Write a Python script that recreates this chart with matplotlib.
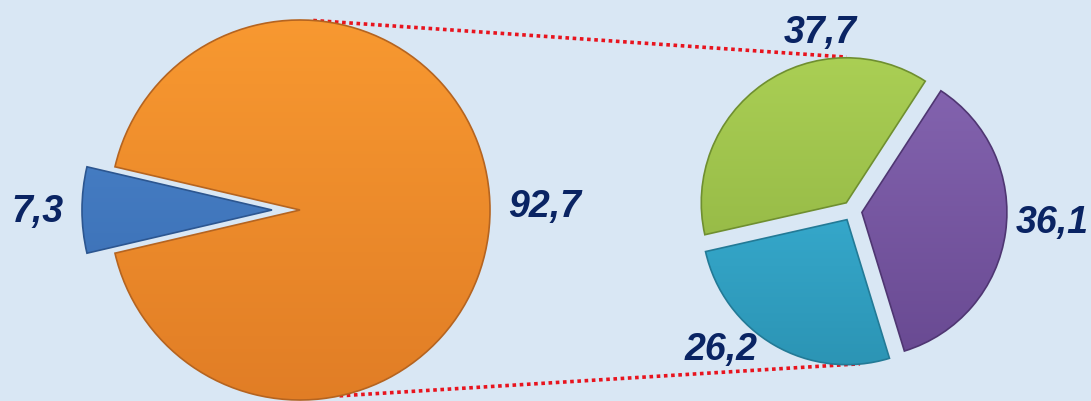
import numpy as np
import matplotlib
matplotlib.use("Agg")
import matplotlib.pyplot as plt
from matplotlib.colors import LinearSegmentedColormap

# datos
main_values = [7.3, 92.7]
main_labels = ["7,3", "92,7"]
sub_values = [37.7, 26.2, 36.1]
sub_labels = ["37,7", "26,2", "36,1"]

# colores (arriba claro, abajo oscuro)
main_colors = [("#4f8ad2", "#3466aa"), ("#f99a31", "#e07c25")]
sub_colors = [("#abd055", "#8aad3e"), ("#40bde3", "#2b93b3"), ("#8767b3", "#674890")]
edge_main = ["#2c5690", "#b56420"]
edge_sub = ["#6f8f30", "#237a96", "#4f3672"]
text_color = "#0a2463"
bg = "#d9e7f4"

W, H = 1091, 401
fig = plt.figure(figsize=(W / 100, H / 100), dpi=100)
fig.patch.set_facecolor(bg)
ax = fig.add_axes([0, 0, 1, 1])
ax.set_facecolor(bg)

# geometria (pixeles, y hacia arriba)
c1, r1 = (300, 191), 190
c2, r2 = (852, 190), 145


def shade(wedges, colors, edges, center, r):
    for w, (top, bot), ec in zip(wedges, colors, edges):
        cmap = LinearSegmentedColormap.from_list("g", [bot, top])
        grad = np.linspace(0, 1, 256).reshape(-1, 1)
        im = ax.imshow(grad, extent=(center[0] - r - 40, center[0] + r + 40,
                                     center[1] - r - 20, center[1] + r + 20),
                       origin="lower", cmap=cmap, aspect="auto", zorder=2)
        im.set_clip_path(w)
        w.set_facecolor("none")
        w.set_edgecolor(ec)
        w.set_linewidth(1.2)
        w.set_zorder(3)


start1 = 180 - main_values[0] * 3.6 / 2
w1, _ = ax.pie(main_values, center=c1, radius=r1, startangle=start1,
               explode=[28, 0], counterclock=True, frame=True)
shade(w1, main_colors, edge_main, c1, r1)

w2, _ = ax.pie(sub_values, center=c2, radius=r2, startangle=57,
               explode=[10, 10, 10], counterclock=True, frame=True)
shade(w2, sub_colors, edge_sub, c2, r2)

# lineas de conexion
def pt(c, r, ang):
    a = np.radians(ang)
    return c[0] + r * np.cos(a), c[1] + r * np.sin(a)

for a1, a2, rr2 in [(86, 92, r2 + 9), (-78, -87, r2 + 8)]:
    x1, y1 = pt(c1, r1, a1)
    x2, y2 = pt(c2, rr2, a2)
    ax.plot([x1, x2], [y1, y2], color="#e8141e", lw=2.6,
            linestyle=(0, (1, 1)), zorder=1)

# etiquetas
main_pos = [(37, 401 - 212), (545, 401 - 207)]
sub_pos = [(820, 401 - 33), (721, 401 - 350), (1052, 401 - 223)]
for txt, (x, y) in zip(main_labels + sub_labels, main_pos + sub_pos):
    ax.text(x, y, txt, ha="center", va="center", fontsize=27,
            fontweight="bold", fontstyle="italic", color=text_color,
            family="Liberation Sans", zorder=5)

ax.set_xlim(0, W)
ax.set_ylim(0, H)
ax.set_aspect("auto")
ax.axis("off")
fig.savefig("out.png", dpi=100, facecolor=bg)
